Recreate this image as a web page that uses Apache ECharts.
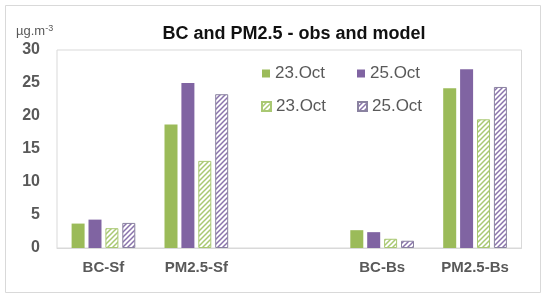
<!DOCTYPE html>
<html>
<head>
<meta charset="utf-8">
<script src="https://cdn.jsdelivr.net/npm/echarts@6/dist/echarts.min.js"></script>
<style>
  html, body { margin: 0; padding: 0; background: #fff; }
  #chart { width: 550px; height: 299px; }
</style>
</head>
<body>
<div id="chart"></div>
<script>
// categories (third slot is an empty gap between the two sites)
const categories = ['BC-Sf', 'PM2.5-Sf', '', 'BC-Bs', 'PM2.5-Bs'];
const yTicks = [0, 5, 10, 15, 20, 25, 30];

// observed (solid) and model (hatched)
const obs23 = [3.7, 18.7, null, 2.7, 24.2];
const obs25 = [4.3, 25.0, null, 2.4, 27.1];
const mod23 = [3.0, 13.2, null, 1.4, 19.5];
const mod25 = [3.8, 23.3, null, 1.1, 24.4];

const GREEN = '#9BBB59';
const PURPLE = '#8064A2';
const TXT = '#595959';

// diagonal stripes for the model bars
function hatch(color) {
  const c = document.createElement('canvas');
  c.width = 5; c.height = 5;
  const ctx = c.getContext('2d');
  ctx.fillStyle = '#fff';
  ctx.fillRect(0, 0, 5, 5);
  ctx.strokeStyle = color;
  ctx.lineWidth = 1.5;
  ctx.beginPath();
  ctx.moveTo(-1, 6); ctx.lineTo(6, -1);
  ctx.moveTo(-1, 1); ctx.lineTo(1, -1);
  ctx.moveTo(4, 6); ctx.lineTo(6, 4);
  ctx.stroke();
  return { image: c, repeat: 'repeat' };
}

const chart = echarts.init(document.getElementById('chart'));

const legendBase = {
  padding: 0,
  itemGap: 0,
  icon: 'rect',
  textStyle: { color: TXT, fontSize: 17, fontFamily: 'Liberation Sans' },
  formatter: name => name.indexOf('23') >= 0 ? '23.Oct' : '25.Oct'
};

let option = {
  animation: false,
  backgroundColor: '#fff',
  title: [
    {
      text: 'BC and PM2.5 - obs and model',
      left: 289,
      textAlign: 'center',
      top: 20,
      textStyle: { fontSize: 18, fontWeight: 'bold', color: '#111', fontFamily: 'Liberation Sans' }
    },
    {
      text: '{a|µg.m}{b|-3}',
      left: 11,
      top: 19,
      textStyle: {
        fontWeight: 'normal',
        rich: {
          a: { fontSize: 13, color: TXT, fontWeight: 'normal', fontFamily: 'Liberation Sans' },
          b: { fontSize: 9, color: TXT, fontWeight: 'normal', fontFamily: 'Liberation Sans', verticalAlign: 'top', padding: [0, 0, 6, 0] }
        }
      }
    }
  ],
  graphic: [
    {
      type: 'rect',
      shape: { x: 5.5, y: 5.5, width: 535, height: 287 },
      style: { fill: 'none', stroke: '#d9d9d9', lineWidth: 1 },
      silent: true
    }
  ],
  legend: [
    Object.assign({}, legendBase, { left: 262, top: 65, itemWidth: 8, itemHeight: 8, data: ['obs23'] }),
    Object.assign({}, legendBase, { left: 357, top: 65, itemWidth: 8, itemHeight: 8, data: ['obs25'] }),
    Object.assign({}, legendBase, { left: 261, top: 98, itemWidth: 9, itemHeight: 9, data: ['mod23'] }),
    Object.assign({}, legendBase, { left: 357, top: 98, itemWidth: 9, itemHeight: 9, data: ['mod25'] })
  ],
  grid: {
    left: 57,
    right: 28.5,
    top: 50,
    bottom: 51,
    show: true,
    borderColor: '#d9d9d9',
    borderWidth: 1
  },
  xAxis: {
    type: 'category',
    data: categories,
    axisTick: { show: false },
    axisLine: { lineStyle: { color: '#d9d9d9' } },
    axisLabel: {
      color: TXT,
      fontSize: 15,
      fontWeight: 'bold',
      fontFamily: 'Liberation Sans',
      margin: 12,
      interval: 0
    }
  },
  yAxis: {
    type: 'value',
    min: yTicks[0],
    max: yTicks[yTicks.length - 1],
    interval: 5,
    splitLine: { show: false },
    axisLine: { show: false },
    axisTick: { show: false },
    axisLabel: {
      color: TXT,
      fontSize: 16,
      fontWeight: 'bold',
      fontFamily: 'Liberation Sans',
      margin: 17
    }
  },
  series: [
    {
      name: 'obs23', type: 'bar', data: obs23,
      barWidth: 13, barGap: '30%',
      itemStyle: { color: GREEN }
    },
    {
      name: 'obs25', type: 'bar', data: obs25,
      barWidth: 13, barGap: '30%',
      itemStyle: { color: PURPLE }
    },
    {
      name: 'mod23', type: 'bar', data: mod23,
      barWidth: 13, barGap: '30%',
      itemStyle: { color: hatch('#a9c873'), borderColor: '#a9c873', borderWidth: 1 }
    },
    {
      name: 'mod25', type: 'bar', data: mod25,
      barWidth: 13, barGap: '30%',
      itemStyle: { color: hatch('#8a73ac'), borderColor: '#8a82a0', borderWidth: 1 }
    }
  ]
};

option && chart.setOption(option);
</script>
</body>
</html>
